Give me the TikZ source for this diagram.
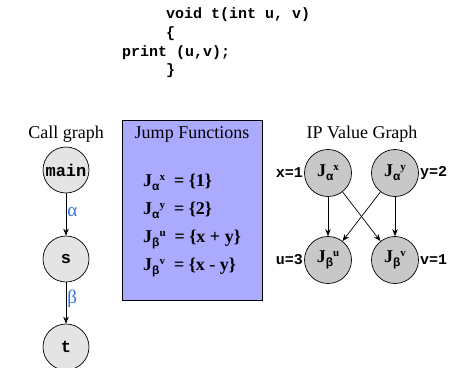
\documentclass[tikz,border=0pt]{standalone}
\usepackage{fontspec}
\setmainfont{Liberation Serif}
\setsansfont{Liberation Sans}
\setmonofont{Liberation Mono}
\usetikzlibrary{arrows.meta}
\definecolor{boxblue}{HTML}{AAAAFF}
\definecolor{greekblue}{HTML}{2F6FE0}
\definecolor{lightnode}{HTML}{E4E4E4}
\definecolor{darknode}{HTML}{C8C8C8}
\newcommand{\Jf}[2]{\textbf{J}\raisebox{-4pt}{\fontsize{12}{12}\sffamily\bfseries #1}\raisebox{6pt}{\fontsize{11}{11}\selectfont\bfseries #2}}
\begin{document}
\begin{tikzpicture}[x=1pt,y=-1pt,
 code/.style={font=\fontsize{15}{15}\ttfamily\bfseries, anchor=base west, inner sep=0},
 title/.style={font=\fontsize{18}{18}\selectfont, inner sep=0, anchor=base},
 cgnode/.style={circle, draw, line width=0.7pt, fill=lightnode, minimum size=46pt, inner sep=0, font=\fontsize{17}{17}\ttfamily\bfseries},
 ipnode/.style={circle, draw, line width=0.7pt, fill=darknode, minimum size=47pt, inner sep=0, font=\fontsize{18}{18}\selectfont},
 lab/.style={font=\fontsize{15}{15}\ttfamily\bfseries, inner sep=1pt},
 arr/.style={-{Stealth[length=7pt,width=5.5pt]}, line width=0.7pt},
 greek/.style={text=greekblue, font=\fontsize{19}{19}\selectfont, anchor=west, inner sep=1pt},
 jf/.style={font=\fontsize{18}{18}\selectfont\bfseries, anchor=base west, inner sep=0},
 jbox/.style={draw, line width=0.7pt, fill=boxblue}
]
\useasboundingbox (0,0) rectangle (457,367);
% code
\node[code] (c1) at (166,18) {void t(int u, v)};
\node[code] (c2) at (166,37) {\{};
\node[code] (c3) at (122,56) {print (u,v);};
\node[code] (c4) at (166,74) {\}};
% call graph
\node[title] (cgt) at (66,138) {Call graph};
\node[cgnode] (main) at (66,170) {main};
\node[cgnode] (s) at (66,259) {s};
\node[cgnode] (t) at (66,347) {t};
\draw[arr] (main) -- node[greek, pos=0.45] (al) {α} (s);
\draw[arr] (s) -- node[greek, pos=0.4] (be) {β} (t);
% jump functions
\path[jbox] (122,120) rectangle (262,300);
\node[title] (jft) at (192,138) {Jump Functions};
\node[jf] (j1) at (143,186) {\Jf{α}{x} \ = \{1\}};
\node[jf] (j2) at (143,214) {\Jf{α}{y} \ = \{2\}};
\node[jf] (j3) at (143,242) {\Jf{β}{u} \ = \{x + y\}};
\node[jf] (j4) at (143,270) {\Jf{β}{v} \ = \{x - y\}};
% IP value graph
\node[title] (ipt) at (362,138) {IP Value Graph};
\node[ipnode] (ax) at (328,173) {\Jf{α}{x}};
\node[ipnode] (ay) at (395,173) {\Jf{α}{y}};
\node[ipnode] (bu) at (328,260) {\Jf{β}{u}};
\node[ipnode] (bv) at (395,260) {\Jf{β}{v}};
\node[lab, anchor=east] (lx) at (ax.west) {x=1};
\node[lab, anchor=west] (ly) at (ay.east) {y=2};
\node[lab, anchor=east] (lu) at (bu.west) {u=3};
\node[lab, anchor=west] (lv) at (bv.east) {v=1};
\draw[arr] (ax) -- (bu);
\draw[arr] (ay) -- (bv);
\draw[arr] (ax) -- (bv);
\draw[arr] (ay) -- (bu);
\end{tikzpicture}
\end{document}
